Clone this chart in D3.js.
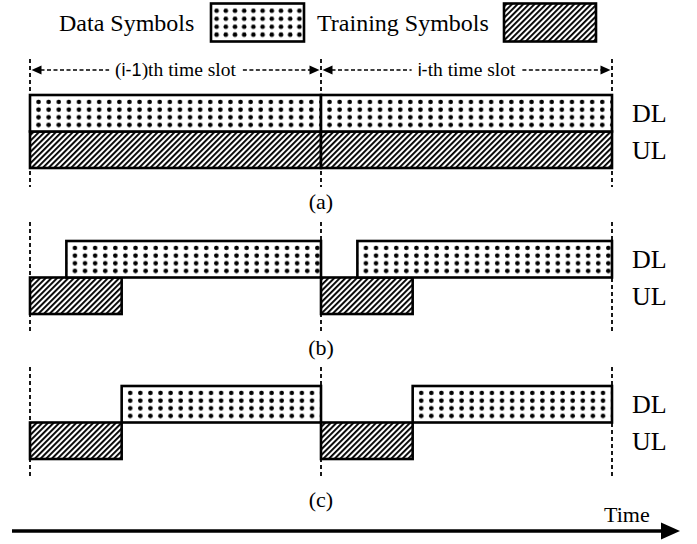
<!DOCTYPE html>
<html><head><meta charset="utf-8">
<script src="https://cdn.jsdelivr.net/npm/d3@7/dist/d3.min.js"></script>
<style>html,body{margin:0;padding:0;background:#fff;} svg{display:block;} text{font-family:"Liberation Serif",serif;}</style>
</head><body>
<svg id="c" width="697" height="544"></svg>
<script>
// ---- data ----
const legendLabels = ["Data Symbols", "Training Symbols"];
const slotLabels = [[["(", "serif"], ["i-1", "sans"], [")th time slot", "serif"]],
                    [["i-", "sans"], ["th time slot", "serif"]]];
const slotIndex = [0, 1];
const panels = ["(a)", "(b)", "(c)"];
const links = ["DL", "UL"];
// fractions of a time slot
const dlStart = [0, 0.125, 0.315];
const dlEnd = [1, 1, 1];
const ulStart = [0, 0, 0];
const ulEnd = [1, 0.315, 0.315];
const axisLabel = "Time";

// ---- layout ----
const svg = d3.select("#c");
const serif = "Liberation Serif";
const sans = "Liberation Sans";
const x = d3.scaleLinear().domain([0, 2]).range([30, 612]);
const panelTop = [95, 241, 386];
const rowH = 36.5;
const vTop = [59, 222, 367], vBot = [187, 332, 478];
const labelY = [209, 355, 507];
const defs = svg.append("defs");

// hatch pattern
const hs = 4.0;
const hp = defs.append("pattern").attr("id", "hatch").attr("patternUnits", "userSpaceOnUse")
  .attr("width", hs).attr("height", hs).attr("patternTransform", "rotate(45)");
hp.append("rect").attr("width", hs).attr("height", hs).attr("fill", "#fff");
hp.append("rect").attr("x", 0).attr("y", 0).attr("width", 1.9).attr("height", hs).attr("fill", "#000");

let pid = 0;
function dotPattern(x0, y0, h, w) {
  const id = "dots" + (pid++);
  const p = defs.append("pattern").attr("id", id).attr("patternUnits", "userSpaceOnUse")
    .attr("x", x0).attr("y", y0).attr("width", w).attr("height", h);
  p.append("rect").attr("width", w).attr("height", h).attr("fill", "#fff");
  const rows = [0.19, 0.40, 0.61, 0.82];
  rows.forEach(r => p.append("circle").attr("cx", w / 2).attr("cy", r * h).attr("r", 2.3).attr("fill", "#000"));
  return "url(#" + id + ")";
}

// ---- legend ----
svg.append("text").attr("x", 59).attr("y", 31).style("font-family", serif).attr("font-size", 24)
  .text(legendLabels[0]);
svg.append("rect").attr("x", 211).attr("y", 3.5).attr("width", 93).attr("height", 38)
  .attr("fill", dotPattern(212, 3.5, 38, 9.2)).attr("stroke", "#000").attr("stroke-width", 2.6);
svg.append("text").attr("x", 317).attr("y", 31).style("font-family", serif).attr("font-size", 24)
  .text(legendLabels[1]);
svg.append("rect").attr("x", 504).attr("y", 3.5).attr("width", 92).attr("height", 38)
  .attr("fill", "url(#hatch)").attr("stroke", "#000").attr("stroke-width", 2.6);

// ---- vertical dashed boundaries ----
panels.forEach((p, i) => {
  [0, 1, 2].forEach(b => {
    svg.append("line").attr("x1", x(b)).attr("x2", x(b)).attr("y1", vTop[i]).attr("y2", vBot[i])
      .attr("stroke", "#000").attr("stroke-width", 1.8).attr("stroke-dasharray", "4,3");
  });
});

// ---- slot arrows ----
function arrowHead(tx, ty, dir) {
  svg.append("path").attr("d", `M${tx},${ty} L${tx - dir * 10},${ty - 4.5} L${tx - dir * 10},${ty + 4.5} Z`)
    .attr("fill", "#000");
}
slotIndex.forEach(s => {
  const x0 = x(s) + 1.5, x1 = x(s + 1) - 1.5, cy = 70, mid = (x(s) + x(s + 1)) / 2;
  const t = svg.append("text").attr("x", mid).attr("y", cy + 6).attr("text-anchor", "middle")
    .style("font-family", serif).attr("font-size", 19.5);
  slotLabels[s].forEach(([str, f]) => t.append("tspan").style("font-family", f === "sans" ? sans : serif)
    .attr("font-size", f === "sans" ? 18 : 19.5).text(str));
  const w = t.node().getComputedTextLength();
  arrowHead(x0, cy, -1);
  arrowHead(x1, cy, 1);
  svg.append("line").attr("x1", x0 + 9).attr("x2", mid - w / 2 - 6).attr("y1", cy).attr("y2", cy)
    .attr("stroke", "#000").attr("stroke-width", 1.6).attr("stroke-dasharray", "4,2.5");
  svg.append("line").attr("x1", mid + w / 2 + 7).attr("x2", x1 - 9).attr("y1", cy).attr("y2", cy)
    .attr("stroke", "#000").attr("stroke-width", 1.6).attr("stroke-dasharray", "4,2.5");
});

// ---- panels ----
panels.forEach((p, i) => {
  const yDL = panelTop[i], yUL = panelTop[i] + rowH;
  slotIndex.forEach(s => {
    const ux0 = x(s + ulStart[i]), ux1 = x(s + ulEnd[i]);
    svg.append("rect").attr("x", ux0).attr("y", yUL).attr("width", ux1 - ux0).attr("height", rowH)
      .attr("fill", "url(#hatch)").attr("stroke", "#000").attr("stroke-width", 2.6);
    const dx0 = x(s + dlStart[i]), dx1 = x(s + dlEnd[i]);
    svg.append("rect").attr("x", dx0).attr("y", yDL).attr("width", dx1 - dx0).attr("height", rowH)
      .attr("fill", dotPattern(dx0 + 3.5, yDL, rowH, 10.1)).attr("stroke", "#000").attr("stroke-width", 2.6);
  });
  svg.append("text").attr("x", 632).attr("y", yDL + 27).style("font-family", serif).attr("font-size", 26)
    .text(links[0]);
  svg.append("text").attr("x", 632).attr("y", yUL + 27).style("font-family", serif).attr("font-size", 26)
    .text(links[1]);
  svg.append("text").attr("x", x(1)).attr("y", labelY[i]).attr("text-anchor", "middle")
    .style("font-family", serif).attr("font-size", 22).text(p);
});

// ---- time axis ----
svg.append("line").attr("x1", 12).attr("x2", 664).attr("y1", 531).attr("y2", 531)
  .attr("stroke", "#000").attr("stroke-width", 3.6);
svg.append("path").attr("d", "M680,531 L661,522.5 L661,539.5 Z").attr("fill", "#000");
svg.append("text").attr("x", 604).attr("y", 522).style("font-family", serif).attr("font-size", 22)
  .text(axisLabel);
</script>
</body></html>
